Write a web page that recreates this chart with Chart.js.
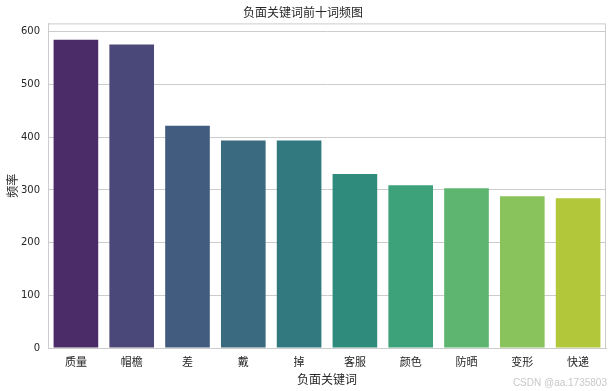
<!DOCTYPE html>
<html>
<head>
<meta charset="utf-8">
<script src="https://cdn.jsdelivr.net/npm/chart.js@4"></script>
<style>
    html, body { margin: 0; padding: 0; background: #ffffff; }
    #wrap { position: relative; width: 613px; height: 391px; }
    #mark {
        position: absolute; right: 6px; bottom: 3px;
        font: 10px 'Liberation Sans', sans-serif; color: #c8c8c8;
    }
</style>
</head>
<body>
<div id="wrap">
    <canvas id="chart" width="613" height="391"></canvas>
    <div id="mark">CSDN @aa.1735803</div>
</div>
<script>
// 负面关键词与频率
const keywords = ['质量', '帽檐', '差', '戴', '掉', '客服', '颜色', '防晒', '变形', '快递'];
const counts = [585, 576, 422, 394, 394, 330, 309, 303, 288, 284];
const barColors = ['#4b2c69', '#4a4878', '#425c80', '#3a6a7f', '#31797e',
                   '#2f8c7d', '#3da27a', '#5eb56f', '#89c35b', '#b2c73a'];
const yTicks = [0, 100, 200, 300, 400, 500, 600];

const cjk = "'Noto Sans CJK SC', 'DejaVu Sans', sans-serif";
const textColor = '#262626';
const lineColor = '#cccccc';

// 四周边框
const frame = {
    id: 'frame',
    afterDraw(chart) {
        const { ctx, chartArea: a } = chart;
        ctx.save();
        ctx.strokeStyle = lineColor;
        ctx.lineWidth = 1;
        ctx.strokeRect(a.left + 0.5, a.top + 0.5, a.right - a.left - 1, a.bottom - a.top);
        ctx.restore();
    }
};

new Chart(document.getElementById('chart'), {
    type: 'bar',
    data: {
        labels: keywords,
        datasets: [{
            data: counts,
            backgroundColor: barColors,
            borderWidth: 0,
            categoryPercentage: 0.8,
            barPercentage: 1.0
        }]
    },
    options: {
        responsive: false,
        animation: false,
        layout: { padding: { right: 7 } },
        plugins: {
            legend: { display: false },
            tooltip: { enabled: false },
            title: {
                display: true,
                text: '负面关键词前十词频图',
                color: textColor,
                font: { family: cjk, size: 12, weight: 'normal' },
                padding: { top: 5, bottom: 4 }
            }
        },
        scales: {
            x: {
                grid: { display: false, drawTicks: false },
                border: { color: lineColor },
                ticks: { color: textColor, font: { family: cjk, size: 11 }, padding: 7 },
                title: {
                    display: true,
                    text: '负面关键词',
                    color: textColor,
                    font: { family: cjk, size: 12 },
                    padding: { top: 0, bottom: 4 }
                },
                afterFit(scale) { scale.height = 43; }
            },
            y: {
                min: 0,
                max: 616,
                afterBuildTicks(scale) {
                    scale.ticks = yTicks.map(v => ({ value: v }));
                },
                grid: { color: lineColor, drawTicks: false },
                border: { color: lineColor },
                ticks: { color: textColor, font: { family: "'DejaVu Sans', sans-serif", size: 10 }, padding: 8 },
                title: {
                    display: true,
                    text: '频率',
                    color: textColor,
                    font: { family: cjk, size: 12 },
                    padding: { top: 5, bottom: 0 }
                },
                afterFit(scale) { scale.width = 48; }
            }
        }
    },
    plugins: [frame]
});
</script>
</body>
</html>
